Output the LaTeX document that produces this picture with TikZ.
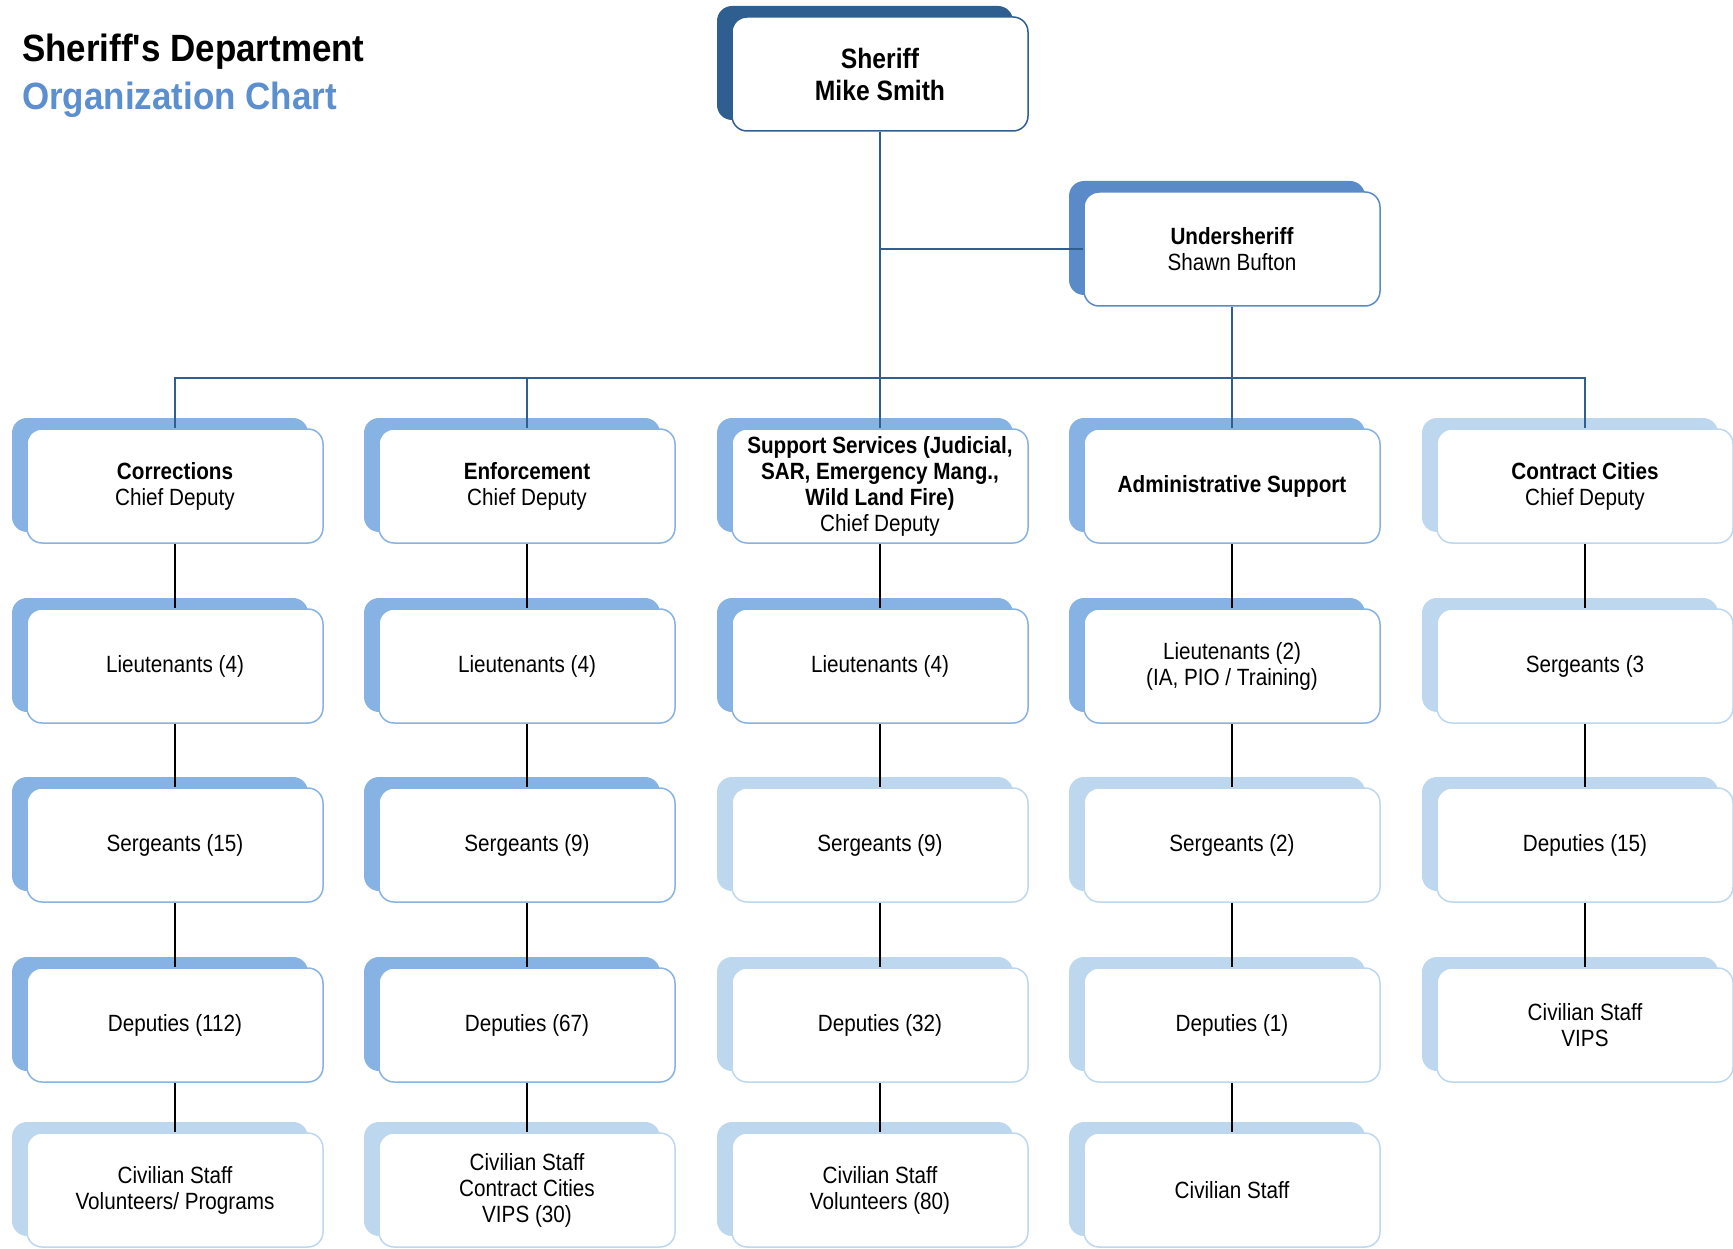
\documentclass[tikz,border=0pt]{standalone}
\usepackage{fontspec}
\setmainfont{Liberation Sans}[FakeStretch=0.88]
\newfontfamily\titlefont{Liberation Sans}[FakeStretch=0.92]
\usetikzlibrary{shadows}

\definecolor{navy}{HTML}{2F5E91}
\definecolor{midblue}{HTML}{5A8BC8}
\definecolor{skyblue}{HTML}{86B3E3}
\definecolor{paleblue}{HTML}{BDD7EF}
\definecolor{titleblue}{HTML}{5B8FCF}

\tikzset{
  box/.style={draw=#1, fill=white, line width=1.5pt, rounded corners=15pt,
    minimum width=296pt, minimum height=114pt, align=center, inner sep=2pt,
    font=\fontsize{23.5}{26}\selectfont,
    general shadow={fill=#1, draw=none, shadow xshift=-15pt, shadow yshift=11pt}},
  topbox/.style={box=#1, font=\bfseries\fontsize{28}{32}\selectfont},
  trunk/.style={draw=navy, line width=1.5pt},
  link/.style={draw=black, line width=1.5pt},
}

\begin{document}
\begin{tikzpicture}[x=1pt, y=-1pt]
\useasboundingbox (0,0) rectangle (1733,1249);

% heading
\node[anchor=base west, inner sep=0pt, font=\titlefont\bfseries\fontsize{38}{46}\selectfont] (head1) at (22,62) {Sheriff's Department};
\node[anchor=base west, inner sep=0pt, text=titleblue, font=\titlefont\bfseries\fontsize{38}{46}\selectfont] (head2) at (22,110) {Organization Chart};

% command staff
\node[topbox=navy] (sheriff) at (880,74) {Sheriff\\Mike Smith};
\node[box=midblue] (under) at (1232,249) {\textbf{Undersheriff}\\Shawn Bufton};

% column 1: corrections
\node[box=skyblue] (a1) at (175,486) {\textbf{Corrections}\\Chief Deputy};
\node[box=skyblue] (a2) at (175,666) {Lieutenants (4)};
\node[box=skyblue] (a3) at (175,845) {Sergeants (15)};
\node[box=skyblue] (a4) at (175,1025) {Deputies (112)};
\node[box=paleblue] (a5) at (175,1190) {Civilian Staff\\Volunteers/ Programs};

% column 2: enforcement
\node[box=skyblue] (b1) at (527,486) {\textbf{Enforcement}\\Chief Deputy};
\node[box=skyblue] (b2) at (527,666) {Lieutenants (4)};
\node[box=skyblue] (b3) at (527,845) {Sergeants (9)};
\node[box=skyblue] (b4) at (527,1025) {Deputies (67)};
\node[box=paleblue] (b5) at (527,1190) {Civilian Staff\\Contract Cities\\VIPS (30)};

% column 3: support services
\node[box=skyblue] (c1) at (880,486) {\textbf{Support Services (Judicial,}\\\textbf{SAR, Emergency Mang.,}\\\textbf{Wild Land Fire)}\\Chief Deputy};
\node[box=skyblue] (c2) at (880,666) {Lieutenants (4)};
\node[box=paleblue] (c3) at (880,845) {Sergeants (9)};
\node[box=paleblue] (c4) at (880,1025) {Deputies (32)};
\node[box=paleblue] (c5) at (880,1190) {Civilian Staff\\Volunteers (80)};

% column 4: administrative support
\node[box=skyblue] (d1) at (1232,486) {\textbf{Administrative Support}};
\node[box=skyblue] (d2) at (1232,666) {Lieutenants (2)\\(IA, PIO / Training)};
\node[box=paleblue] (d3) at (1232,845) {Sergeants (2)};
\node[box=paleblue] (d4) at (1232,1025) {Deputies (1)};
\node[box=paleblue] (d5) at (1232,1190) {Civilian Staff};

% column 5: contract cities
\node[box=paleblue] (e1) at (1585,486) {\textbf{Contract Cities}\\Chief Deputy};
\node[box=paleblue] (e2) at (1585,666) {Sergeants (3};
\node[box=paleblue] (e3) at (1585,845) {Deputies (15)};
\node[box=paleblue] (e4) at (1585,1025) {Civilian Staff\\VIPS};

% reporting lines from the top
\coordinate (bus) at (880,378);
\draw[trunk] (sheriff.south) -- (c1.north);
\draw[trunk] (sheriff.south |- under.west) -- (under.west);
\draw[trunk] (under.south) -- (d1.north);
\draw[trunk] (a1.north) -- (a1.north |- bus) -- (e1.north |- bus) -- (e1.north);
\draw[trunk] (b1.north) -- (b1.north |- bus);

% chains within each column
\foreach \col/\last in {a/5, b/5, c/5, d/5, e/4} {
  \foreach \i [evaluate=\i as \j using int(\i+1)] in {1,...,4} {
    \ifnum\i<\last
      \draw[link] (\col\i.south) -- (\col\j.north);
    \fi
  }
}
\end{tikzpicture}
\end{document}
